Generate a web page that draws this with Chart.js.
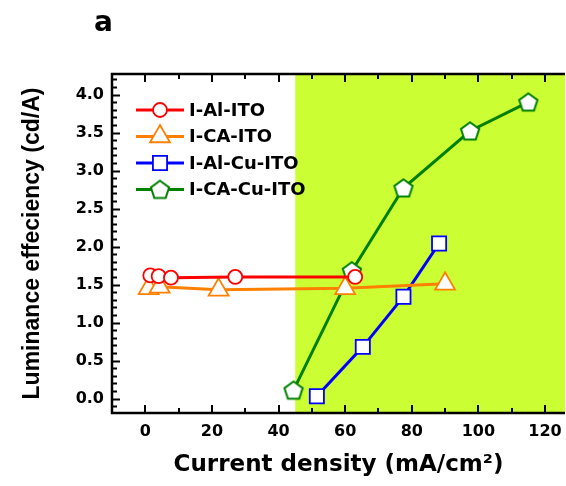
<!DOCTYPE html>
<html>
<head>
<meta charset="utf-8">
<script src="https://cdn.jsdelivr.net/npm/chart.js@4/dist/chart.umd.min.js"></script>
<style>
  html, body { margin: 0; padding: 0; background: #fff; }
  #wrap { width: 566px; height: 486px; position: relative; }
</style>
</head>
<body>
<div id="wrap"><canvas id="chart" width="566" height="486"></canvas></div>
<script>
// values
const alItoX = [1.5, 4, 7.7, 27, 63];
const alItoY = [1.62, 1.61, 1.59, 1.60, 1.60];
const caItoX = [1, 4.3, 22, 60, 90];
const caItoY = [1.45, 1.47, 1.43, 1.45, 1.51];
const alCuItoX = [51.5, 65.3, 77.5, 88.2];
const alCuItoY = [0.03, 0.68, 1.34, 2.04];
const caCuItoX = [44.5, 62, 77.5, 97.5, 115];
const caCuItoY = [0.11, 1.68, 2.77, 3.52, 3.90];

const seriesLabels = ["I-Al-ITO", "I-CA-ITO", "I-Al-Cu-ITO", "I-CA-Cu-ITO"];
const xTicks = [0, 20, 40, 60, 80, 100, 120];
const yTicks = [0, 0.5, 1.0, 1.5, 2.0, 2.5, 3.0, 3.5, 4.0];
const shadeFrom = 45; // start of the green band (mA/cm2)

const WIDE = "'DejaVu Sans', sans-serif";
const FONT = "'Liberation Sans', Arial, sans-serif";

function pts(xs, ys) {
  return xs.map((x, i) => ({ x: x, y: ys[i] }));
}

// pentagon marker (Chart.js has no built-in one)
function pentagon(color) {
  const c = document.createElement("canvas");
  c.width = 24; c.height = 24;
  const g = c.getContext("2d");
  g.beginPath();
  for (let i = 0; i < 5; i++) {
    const a = -Math.PI / 2 + i * 2 * Math.PI / 5;
    const px = 12 + 9.6 * Math.cos(a), py = 12.8 + 9.6 * Math.sin(a);
    if (i) g.lineTo(px, py); else g.moveTo(px, py);
  }
  g.closePath();
  g.fillStyle = "#fff";
  g.fill();
  g.lineWidth = 2;
  g.strokeStyle = color;
  g.stroke();
  return c;
}

function series(label, data, color, style, radius) {
  return {
    label: label,
    data: data,
    borderColor: color,
    backgroundColor: "#fff",
    borderWidth: 3,
    pointStyle: style,
    pointRadius: radius,
    pointBorderWidth: 1.8,
    pointBorderColor: color,
    pointBackgroundColor: "#fff",
    tension: 0
  };
}

const frame = {
  id: "frame",
  beforeDatasetsDraw(chart) {
    const { ctx, chartArea: a, scales: { x } } = chart;
    ctx.save();
    ctx.fillStyle = "#ccff33";
    const x0 = x.getPixelForValue(shadeFrom);
    ctx.fillRect(x0, a.top, a.right - x0, a.bottom - a.top);
    ctx.restore();
  },
  afterDatasetsDraw(chart) {
    const { ctx, chartArea: a, scales: { x, y } } = chart;
    ctx.save();
    ctx.strokeStyle = "#000";
    ctx.lineCap = "butt";

    // ticks, pointing inward
    ctx.lineWidth = 2;
    for (let v = 0; v <= 120; v += 10) {
      const px = Math.round(x.getPixelForValue(v));
      const len = v % 20 === 0 ? 8 : 5;
      ctx.beginPath();
      ctx.moveTo(px, a.bottom); ctx.lineTo(px, a.bottom - len);
      ctx.moveTo(px, a.top); ctx.lineTo(px, a.top + len);
      ctx.stroke();
    }
    for (let k = -1; k <= 42; k++) {
      const py = Math.round(y.getPixelForValue(k / 10)) + 0.5;
      const len = k % 5 === 0 ? 8 : 5;
      ctx.beginPath();
      ctx.moveTo(a.left, py); ctx.lineTo(a.left + len, py);
      ctx.stroke();
    }

    // axis lines (no right spine)
    ctx.lineWidth = 2.5;
    ctx.beginPath();
    ctx.moveTo(a.right, a.top); ctx.lineTo(a.left, a.top);
    ctx.lineTo(a.left, a.bottom); ctx.lineTo(a.right, a.bottom);
    ctx.stroke();

    // legend inside the plot
    const sets = chart.data.datasets;
    sets.forEach((ds, i) => {
      const cy = 110 + i * 26.5;
      ctx.strokeStyle = ds.borderColor;
      ctx.lineWidth = 3;
      ctx.beginPath();
      ctx.moveTo(136, cy); ctx.lineTo(184, cy);
      ctx.stroke();
      ctx.fillStyle = "#fff";
      ctx.strokeStyle = ds.borderColor;
      ctx.lineWidth = ds.pointBorderWidth;
      Chart.helpers.drawPoint(ctx, {
        pointStyle: ds.pointStyle, radius: ds.pointRadius,
        borderWidth: ds.pointBorderWidth, rotation: 0
      }, 160, cy);
      ctx.fillStyle = "#000";
      ctx.font = "bold 18px " + WIDE;
      ctx.textBaseline = "middle";
      ctx.textAlign = "left";
      ctx.fillText(ds.label, 189, cy + 1);
    });

    // panel letter
    ctx.fillStyle = "#000";
    ctx.font = "bold 28px " + WIDE;
    ctx.textBaseline = "alphabetic";
    ctx.fillText("a", 94, 31);
    ctx.restore();
  }
};

new Chart(document.getElementById("chart"), {
  type: "line",
  data: {
    datasets: [
      series(seriesLabels[0], pts(alItoX, alItoY), "#ff0000", "circle", 7),
      series(seriesLabels[1], pts(caItoX, caItoY), "#ff8000", "triangle", 11.5),
      series(seriesLabels[2], pts(alCuItoX, alCuItoY), "#0000ff", "rect", 10),
      series(seriesLabels[3], pts(caCuItoX, caCuItoY), "#008000", pentagon("#008000"), 9)
    ]
  },
  options: {
    responsive: false,
    animation: false,
    layout: { autoPadding: false, padding: { top: 74, right: 1, left: 0, bottom: 0 } },
    plugins: { legend: { display: false }, tooltip: { enabled: false } },
    scales: {
      x: {
        type: "linear",
        min: -10,
        max: 126,
        grid: { display: false, drawTicks: false },
        border: { display: false },
        afterBuildTicks: s => { s.ticks = xTicks.map(v => ({ value: v })); },
        afterFit: s => { s.height = 73; s.paddingLeft = 0; s.paddingRight = 0; },
        ticks: {
          padding: 9,
          maxRotation: 0,
          color: "#000",
          font: { family: WIDE, size: 16, weight: "bold" }
        },
        title: {
          display: true,
          text: "Current density (mA/cm\u00b2)",
          color: "#000",
          padding: { top: 0, bottom: 7 },
          font: { family: WIDE, size: 23, weight: "bold" }
        }
      },
      y: {
        type: "linear",
        min: -0.19,
        max: 4.27,
        grid: { display: false, drawTicks: false },
        border: { display: false },
        afterBuildTicks: s => { s.ticks = yTicks.map(v => ({ value: v })); },
        afterFit: s => { s.width = 112; s.paddingTop = 0; s.paddingBottom = 0; },
        ticks: {
          padding: 8,
          color: "#000",
          font: { family: WIDE, size: 16, weight: "bold" },
          callback: v => Number(v).toFixed(1)
        },
        title: {
          display: true,
          text: "Luminance effeciency (cd/A)",
          color: "#000",
          padding: { top: 19, bottom: 0 },
          font: { family: FONT, size: 23, weight: "bold" }
        }
      }
    }
  },
  plugins: [frame]
});
</script>
</body>
</html>
